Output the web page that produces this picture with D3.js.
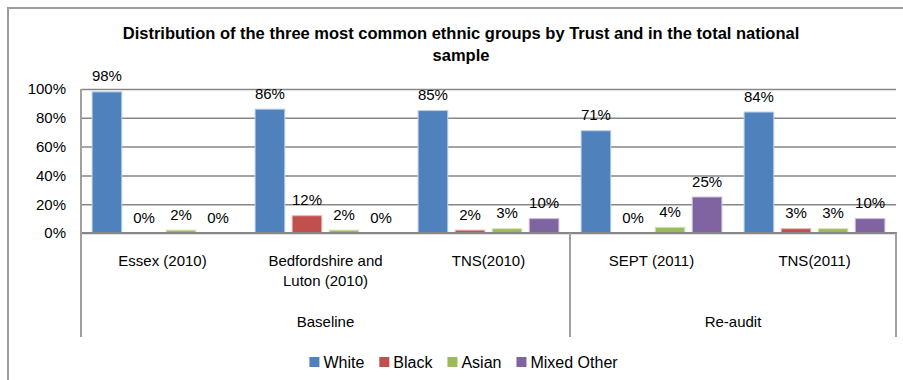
<!DOCTYPE html>
<html>
<head>
<meta charset="utf-8">
<script src="https://cdn.jsdelivr.net/npm/d3@7"></script>
<style>
  body { margin: 0; background: #fff; }
  svg text { font-family: "Liberation Sans", Arial, sans-serif; fill: #000; }
</style>
</head>
<body>
<div id="chart"></div>
<script>
// data
const trusts = ["Essex (2010)", "Bedfordshire and Luton (2010)", "TNS(2010)", "SEPT (2011)", "TNS(2011)"];
const trustLines = [["Essex (2010)"], ["Bedfordshire and", "Luton (2010)"], ["TNS(2010)"], ["SEPT (2011)"], ["TNS(2011)"]];
const phases = ["Baseline", "Re-audit"];
const phaseSize = [3, 2];
const groups = ["White", "Black", "Asian", "Mixed Other"];
const white = [0.98, 0.86, 0.85, 0.71, 0.84];
const black = [0.00, 0.12, 0.02, 0.00, 0.03];
const asian = [0.02, 0.02, 0.03, 0.04, 0.03];
const mixed = [0.00, 0.00, 0.10, 0.25, 0.10];
const yTicks = [0, 0.2, 0.4, 0.6, 0.8, 1.0];
const colors = ["#4F81BD", "#C0504D", "#9BBB59", "#8064A2"];
const edges = ["#B9CDE5", "#E6B9B8", "#D7E4BD", "#CCC1DA"];

const W = 903, H = 380;
const plotLeft = 81, plotRight = 896, plotTop = 89, base = 233, axisBottom = 337;

const svg = d3.select("#chart").append("svg")
    .attr("width", W).attr("height", H);

// chart frame
svg.append("rect")
    .attr("x", 8).attr("y", 8)
    .attr("width", 920).attr("height", 420)
    .attr("fill", "none").attr("stroke", "#9c9c9c").attr("stroke-width", 2);

// title
const title = svg.append("text")
    .attr("text-anchor", "middle")
    .style("font-weight", "bold").style("font-size", "16.5px");
title.append("tspan").attr("x", 461).attr("y", 39)
    .text("Distribution of the three most common ethnic groups by Trust and in the total national");
title.append("tspan").attr("x", 461).attr("y", 61).text("sample");

const x0 = d3.scaleBand().domain(trusts).range([plotLeft, plotRight]);
const x1 = d3.scaleBand().domain(groups).range([0, x0.bandwidth()])
    .paddingInner(0.2).paddingOuter(0.3);
const y = d3.scaleLinear().domain([0, 1]).range([base, plotTop]);

// gridlines
svg.append("g")
    .attr("transform", `translate(${plotLeft},0)`)
    .call(d3.axisLeft(y).tickValues(yTicks).tickSize(-(plotRight - plotLeft)).tickFormat(""))
    .call(g => g.select(".domain").remove())
    .call(g => g.selectAll("line").attr("stroke", "#878787").attr("stroke-width", 1.5));

// y labels
svg.append("g")
    .attr("transform", `translate(${plotLeft},0)`)
    .call(d3.axisLeft(y).tickValues(yTicks).tickSize(0).tickPadding(15).tickFormat(d3.format(".0%")))
    .call(g => g.select(".domain").remove())
    .call(g => g.selectAll("text").style("font-size", "15px").attr("fill", "#000"));

// bars
const series = [white, black, asian, mixed];
const rows = [];
series.forEach((vals, si) => {
    vals.forEach((v, ci) => rows.push({ trust: trusts[ci], group: groups[si], si: si, value: v }));
});

svg.append("g").selectAll("rect")
    .data(rows)
    .join("rect")
    .attr("x", d => x0(d.trust) + x1(d.group))
    .attr("y", d => y(d.value))
    .attr("width", x1.bandwidth())
    .attr("height", d => base - y(d.value))
    .attr("fill", d => colors[d.si])
    .attr("stroke", d => d.value > 0 ? edges[d.si] : "none")
    .attr("stroke-width", 1);

svg.append("g").selectAll("text")
    .data(rows)
    .join("text")
    .attr("x", d => x0(d.trust) + x1(d.group) + x1.bandwidth() / 2)
    .attr("y", d => y(d.value) - 10.5)
    .attr("text-anchor", "middle")
    .style("font-size", "15px")
    .text(d => Math.round(d.value * 100) + "%");

// axes lines
const axisColor = "#878787";
svg.append("line")
    .attr("x1", plotLeft - 1).attr("x2", plotRight + 1).attr("y1", base).attr("y2", base)
    .attr("stroke", axisColor).attr("stroke-width", 2);
let cum = 0;
const dividers = [0];
phaseSize.forEach(n => { cum += n; dividers.push(cum); });
svg.append("g").selectAll("line")
    .data(dividers)
    .join("line")
    .attr("x1", d => d === trusts.length ? plotRight : x0(trusts[d]))
    .attr("x2", d => d === trusts.length ? plotRight : x0(trusts[d]))
    .attr("y1", d => d === 0 ? plotTop : base)
    .attr("y2", axisBottom)
    .attr("stroke", "#a0a0a0").attr("stroke-width", 2);

// category labels
const catLabels = svg.append("g").selectAll("text")
    .data(trusts)
    .join("text")
    .attr("text-anchor", "middle")
    .style("font-size", "15px");
catLabels.selectAll("tspan")
    .data((d, i) => trustLines[i].map(t => ({ t: t, x: x0(d) + x0.bandwidth() / 2 })))
    .join("tspan")
    .attr("x", d => d.x)
    .attr("y", (d, i) => 266 + i * 19.5)
    .text(d => d.t);

// phase labels
svg.append("g").selectAll("text")
    .data(phases)
    .join("text")
    .attr("x", (d, i) => {
        const a = x0(trusts[dividers[i]]);
        const b = dividers[i + 1] === trusts.length ? plotRight : x0(trusts[dividers[i + 1]]);
        return (a + b) / 2;
    })
    .attr("y", 327)
    .attr("text-anchor", "middle")
    .style("font-size", "15px")
    .text(d => d);

// legend
const legend = svg.append("g");
const items = legend.selectAll("g")
    .data(groups)
    .join("g");
items.append("rect")
    .attr("width", 10).attr("height", 10)
    .attr("y", 357)
    .attr("fill", (d, i) => colors[i]);
items.append("text")
    .attr("x", 14).attr("y", 367.5)
    .style("font-size", "16px")
    .text(d => d);
let lx = 0;
const pos = [];
items.each(function () {
    pos.push(lx);
    lx += 14 + d3.select(this).select("text").node().getComputedTextLength() + 15;
});
const total = lx - 15;
const startX = 463.5 - total / 2;
items.attr("transform", (d, i) => `translate(${startX + pos[i]},0)`);
</script>
</body>
</html>
